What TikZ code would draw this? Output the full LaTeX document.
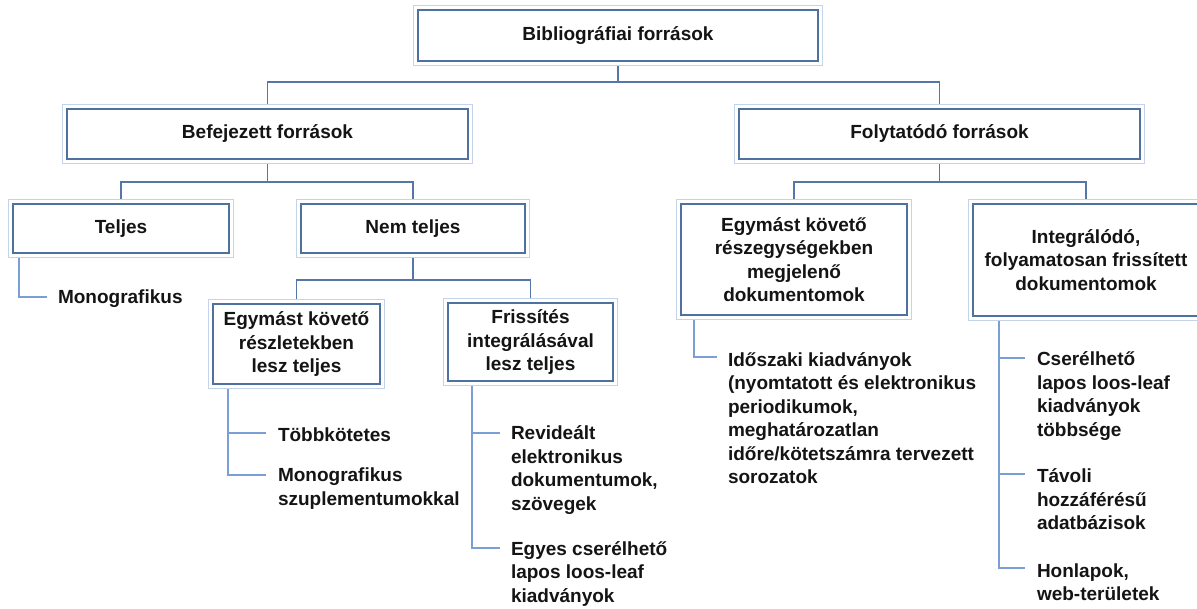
\documentclass[tikz,border=0pt]{standalone}
\usepackage{fontspec}
\setmainfont{Liberation Sans}
\pgfdeclarelayer{bg}
\pgfdeclarelayer{mid}
\pgfsetlayers{bg,mid,main}
\definecolor{boxc}{HTML}{4F71A0}
\definecolor{outc}{HTML}{C6D4EA}
\definecolor{connc}{HTML}{5577A8}
\definecolor{leafc}{HTML}{7A9FD4}
\definecolor{txtc}{HTML}{141414}
\begin{document}
\begin{tikzpicture}[x=1pt,y=-1pt,
  every node/.style={font=\fontsize{19}{23.5}\selectfont\bfseries, text=txtc, inner sep=0pt, outer sep=0pt},
  boxst/.style={draw=boxc, line width=1.8pt, fill=white, align=center},
  leafst/.style={anchor=west, align=left},
  conn/.style={draw=connc, line width=1.8pt},
  lconn/.style={draw=leafc, line width=1.8pt}]
\clip (0,0) rectangle (1197,608);

% boxes
\node[boxst, minimum width=400pt, minimum height=51pt] (top) at (618,35.5) {Bibliográfiai források};
\node[boxst, minimum width=401pt, minimum height=50pt] (bef) at (267.5,134) {Befejezett források};
\node[boxst, minimum width=401pt, minimum height=50pt] (fol) at (939.5,134) {Folytatódó források};
\node[boxst, minimum width=216pt, minimum height=49pt] (tel) at (121,228.5) {Teljes};
\node[boxst, minimum width=224pt, minimum height=49pt] (nem) at (413,228.5) {Nem teljes};
\node[boxst, minimum width=167pt, minimum height=80pt] (egy1) at (296.5,344) {Egymást követő\\részletekben\\lesz teljes};
\node[boxst, minimum width=165pt, minimum height=78pt] (fri) at (530.5,342) {Frissítés\\integrálásával\\lesz teljes};
\node[boxst, minimum width=226pt, minimum height=111pt] (egy2) at (794,259.5) {Egymást követő\\részegységekben\\megjelenő\\dokumentomok};
\node[boxst, minimum width=226pt, minimum height=112pt] (int) at (1086,260) {Integrálódó,\\folyamatosan frissített\\dokumentomok};

% outer light frames
\begin{pgfonlayer}{mid}
\foreach \n in {top,bef,fol,tel,nem,egy1,fri,egy2,int}{
  \filldraw[fill=white, draw=outc, line width=1.5pt] ([shift={(-4.5,-4.5)}]\n.north west) rectangle ([shift={(4.5,4.5)}]\n.south east);
}
\end{pgfonlayer}

% leaves
\node[leafst] (l1) at (58,299) {Monografikus};
\node[leafst] (l2) at (278,435) {Többkötetes};
\node[leafst] (l3) at (278,488.5) {Monografikus\\szuplementumokkal};
\node[leafst] (l4) at (511,470) {Revideált\\elektronikus\\dokumentumok,\\szövegek};
\node[leafst] (l5) at (511,573.5) {Egyes cserélhető\\lapos loos-leaf\\kiadványok};
\node[leafst] (l6) at (728,418) {Időszaki kiadványok\\(nyomtatott és elektronikus\\periodikumok,\\meghatározatlan\\időre/kötetszámra tervezett\\sorozatok};
\node[leafst] (l7) at (1037,396) {Cserélhető\\lapos loos-leaf\\kiadványok\\többsége};
\node[leafst] (l8) at (1037,499.5) {Távoli\\hozzáférésű\\adatbázisok};
\node[leafst] (l9) at (1037,582) {Honlapok,\\web-területek};

% leaf connector ends
\coordinate (e1) at (47,297);
\coordinate (e2) at (266,433);
\coordinate (e3) at (266,475);
\coordinate (e4) at (500,433);
\coordinate (e5) at (500,548);
\coordinate (e6) at (717,357);
\coordinate (e7) at (1025,358);
\coordinate (e8) at (1025,474);
\coordinate (e9) at (1025,568);

\begin{pgfonlayer}{bg}
% tree connectors
\draw[conn] (top.south) -- ++(0,21) -| (bef.north);
\draw[conn] (top.south) -- ++(0,21) -| (fol.north);
\draw[conn] (bef.south) -- ++(0,23) -| (tel.north);
\draw[conn] (bef.south) -- ++(0,23) -| (nem.north);
\draw[conn] (fol.south) -- ++(0,23) -| (egy2.north);
\draw[conn] (fol.south) -- ++(0,23) -| (int.north);
\draw[conn] (nem.south) -- ++(0,27) -| (egy1.north);
\draw[conn] (nem.south) -- ++(0,27) -| (fri.north);
% leaf connectors
\draw[lconn] ([xshift=6pt]tel.south west) |- (e1);
\draw[lconn] ([xshift=15pt]egy1.south west) |- (e3);
\draw[lconn] ([xshift=15pt]egy1.south west |- e2) -- (e2);
\draw[lconn] ([xshift=24pt]fri.south west) |- (e5);
\draw[lconn] ([xshift=24pt]fri.south west |- e4) -- (e4);
\draw[lconn] ([xshift=13pt]egy2.south west) |- (e6);
\draw[lconn] ([xshift=26pt]int.south west) |- (e9);
\draw[lconn] ([xshift=26pt]int.south west |- e7) -- (e7);
\draw[lconn] ([xshift=26pt]int.south west |- e8) -- (e8);
\end{pgfonlayer}
\end{tikzpicture}
\end{document}
